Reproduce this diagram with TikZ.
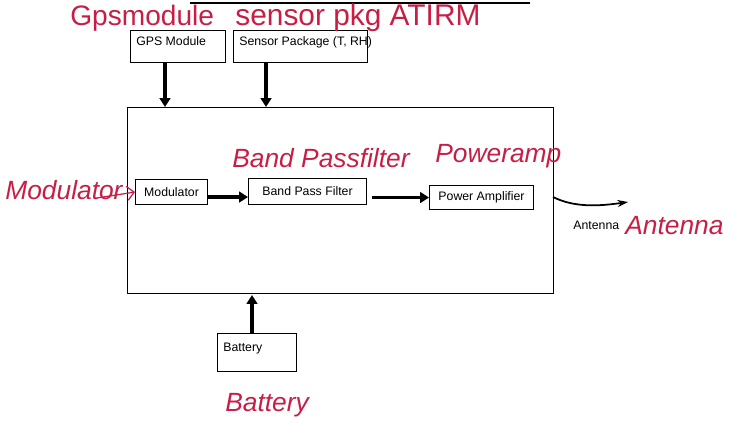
\documentclass[tikz,border=0pt]{standalone}
\usepackage{fontspec}
\setmainfont{Liberation Sans}
\usetikzlibrary{arrows.meta}
\definecolor{ink}{RGB}{200,30,70}
\tikzset{
  blk/.style={draw, line width=0.6pt, inner sep=0pt},
  lbl/.style={font=\fontsize{7}{8}\selectfont, inner sep=0pt},
  thickarrow/.style={line width=1.8pt, -{Triangle[length=5pt,width=6pt]}},
  hand/.style={text=ink, font=\fontsize{15}{16}\selectfont\itshape, inner sep=0pt},
}
\begin{document}
\begin{tikzpicture}[x=0.02cm,y=-0.02cm]
\useasboundingbox (0,0) rectangle (749,436);
% title underline remnant
\draw[line width=0.8pt] (190,3) -- (530,3);
% main box
\draw[line width=0.5pt] (127,107) rectangle (553,293);
\coordinate (mtopA) at (165,107);
\coordinate (mtopB) at (266,107);
\coordinate (mbot) at (252,295);
% top blocks
\node[blk, minimum width=95*0.02cm, minimum height=32*0.02cm, anchor=north west] (gps) at (130,30) {};
\node[lbl, anchor=north west] (gpst) at (136,36) {GPS Module};
\node[blk, minimum width=134*0.02cm, minimum height=32*0.02cm, anchor=north west] (sen) at (233,30) {};
\node[lbl, anchor=north west] (sent) at (239,36) {Sensor Package (T, RH)};
\draw[thickarrow] (gps.south -| mtopA) -- (mtopA);
\draw[thickarrow] (sen.south -| mtopB) -- (mtopB);
% inner blocks
\node[blk, minimum width=72*0.02cm, minimum height=25*0.02cm, anchor=north west] (mod) at (135,179) {};
\node[lbl] (modt) at (mod.center) {Modulator};
\node[blk, minimum width=118*0.02cm, minimum height=26*0.02cm, anchor=north west] (bpf) at (248,178) {};
\node[lbl] (bpft) at (bpf.center) {Band Pass Filter};
\node[blk, minimum width=104*0.02cm, minimum height=24*0.02cm, anchor=north west] (pa) at (429,185) {};
\node[lbl] (pat) at (pa.center) {Power Amplifier};
\draw[thickarrow] ([yshift=-0.1cm]mod.east) -- ([yshift=-0.1cm]bpf.west |- mod.east);
\draw[thickarrow] ([xshift=0.1cm]bpf.east |- pa.west) -- (pa.west);
% antenna
\coordinate (antS) at (553,197);
\coordinate (antE) at (628,202);
\draw[line width=1pt, -{Stealth[length=6pt,width=4pt]}] (antS) .. controls (575,208) and (600,206) .. (antE);
\node[lbl, anchor=west] (antt) at (573,225) {Antenna};
% battery
\node[blk, minimum width=79*0.02cm, minimum height=38*0.02cm, anchor=north west] (bat) at (217,333) {};
\node[lbl, anchor=north west] (batt) at (223,343) {Battery};
\draw[thickarrow] (bat.north -| mbot) -- (mbot);
% handwritten annotations
\node[hand, anchor=west, font=\fontsize{16}{17}\selectfont] (h1) at (70,18) {Gpsmodule};
\node[hand, anchor=west, font=\fontsize{17}{18}\selectfont] (h2) at (235,18) {sensor pkg ATIRM};
\node[hand, anchor=west] (h3) at (5,190) {Modulator};
\node[hand, anchor=west] (h4) at (232,158) {Band Passfilter};
\node[hand, anchor=west] (h5) at (435,156) {Poweramp};
\node[hand, anchor=west] (h6) at (625,226) {Antenna};
\node[hand, anchor=west] (h7) at (225,405) {Battery};
\coordinate (hm) at (97,198);
\draw[ink, line width=0.7pt, -{Straight Barb[length=4pt]}] (hm) -- (mod.west);
\end{tikzpicture}
\end{document}
